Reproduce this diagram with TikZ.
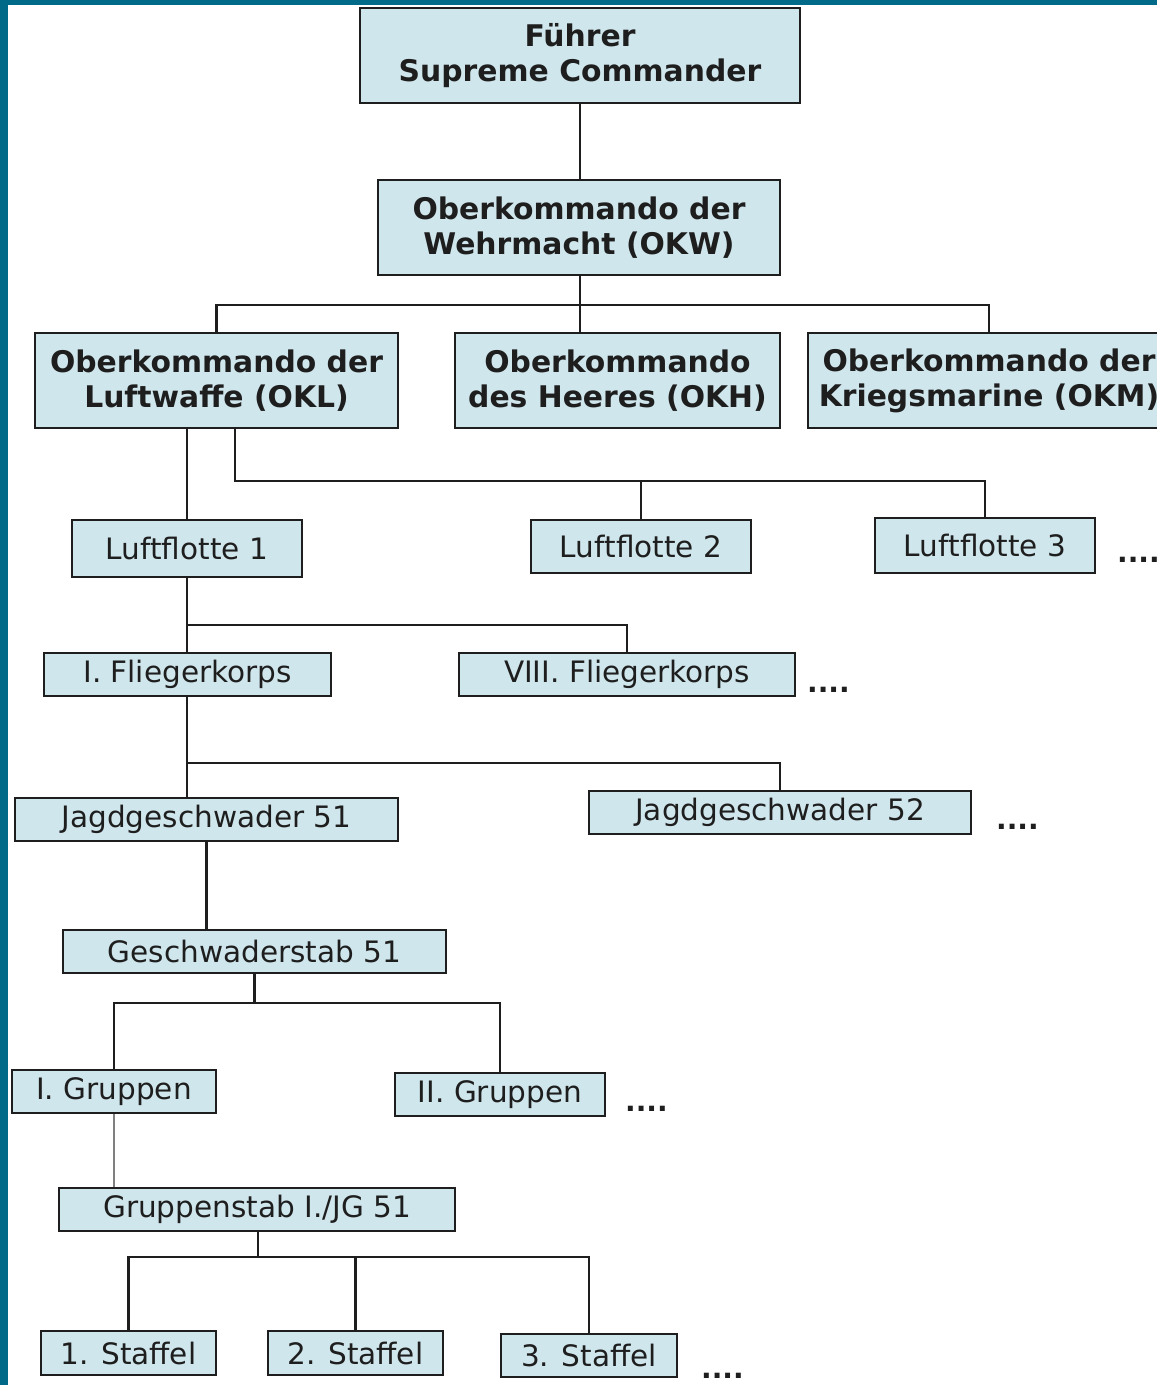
\documentclass[tikz,border=0pt]{standalone}
\usepackage{fontspec}
\setmainfont{DejaVu Sans}
\usepackage{tikz}

\definecolor{boxfill}{HTML}{CFE6EC}
\definecolor{frame}{HTML}{006A88}
\definecolor{ink}{HTML}{1E1E1E}

\tikzset{
  unit/.style={draw=ink, line width=2.8pt, fill=boxfill, inner sep=0pt,
    text=ink, align=center, font=\fontsize{29.5}{35}\selectfont},
  command/.style={unit, font=\fontsize{29.8}{35}\selectfont\bfseries},
  link/.style={draw=ink, line width=2.8pt},
  more/.style={anchor=base west, inner sep=0pt, text=ink,
    font=\fontsize{28}{35}\selectfont\bfseries}
}

\begin{document}
\begin{tikzpicture}[x=1pt,y=-1pt]
\fill[frame] (0,0) rectangle (1157,1385);
\fill[white] (8,5) rectangle (1157,1385);
\useasboundingbox (0,0) rectangle (1157,1385);

% high command
\node[command, minimum width=440, minimum height=95] (fuehrer) at (580,55.5) {Führer\\Supreme Commander};
\node[command, minimum width=402, minimum height=95] (okw) at (579,227.5) {Oberkommando der\\Wehrmacht (OKW)};
\node[command, minimum width=363, minimum height=95] (okl) at (216.5,380.5) {Oberkommando der\\Luftwaffe (OKL)};
\node[command, minimum width=325, minimum height=95] (okh) at (617.5,380.5) {Oberkommando\\des Heeres (OKH)};
\node[command, minimum width=362, minimum height=95] (okm) at (989,380.5) {Oberkommando der\\Kriegsmarine (OKM)};

% luftwaffe
\node[unit, minimum width=230, minimum height=57] (lf1) at (187,548.5) {Luftflotte 1};
\node[unit, minimum width=220, minimum height=53] (lf2) at (641,546.5) {Luftflotte 2};
\node[unit, minimum width=220, minimum height=55] (lf3) at (985,545.5) {Luftflotte 3};
\node[unit, minimum width=287, minimum height=43] (ifk) at (187.5,674.5) {I. Fliegerkorps};
\node[unit, minimum width=336, minimum height=43] (viiifk) at (627,674.5) {VIII. Fliegerkorps};
\node[unit, minimum width=383, minimum height=43] (jg51) at (206.5,819.5) {Jagdgeschwader 51};
\node[unit, minimum width=382, minimum height=43] (jg52) at (780,812.5) {Jagdgeschwader 52};
\node[unit, minimum width=383, minimum height=43] (gs51) at (254.5,951.5) {Geschwaderstab 51};
\node[unit, minimum width=204, minimum height=43] (ig) at (114,1091.5) {I. Gruppen};
\node[unit, minimum width=210, minimum height=43] (iig) at (500,1094.5) {II. Gruppen};
\node[unit, minimum width=396, minimum height=43] (gst) at (257,1209.5) {Gruppenstab I./JG 51};
\node[unit, minimum width=175, minimum height=44] (s1) at (128.5,1353) {1. Staffel};
\node[unit, minimum width=175, minimum height=44] (s2) at (355.5,1353) {2. Staffel};
\node[unit, minimum width=176, minimum height=43] (s3) at (589,1355.5) {3. Staffel};

% and so on
\node[more] (lfmore) at (1117,562) {....};
\node[more] (fkmore) at (807,692) {....};
\node[more] (jgmore) at (996,829) {....};
\node[more] (grmore) at (625,1111) {....};
\node[more] (stmore) at (701,1378) {....};

% bus points
\coordinate (okbus) at (580,305);
\coordinate (lfbus) at (235,481);
\coordinate (fkbus) at (187,625);
\coordinate (jgbus) at (187,763);
\coordinate (grbus) at (254.5,1003);
\coordinate (stbus) at (258,1257);

\draw[link] (fuehrer.south) -- (fuehrer.south |- okw.north);
\draw[link] (okw.south -| okbus) -- (okbus |- okh.north);
\draw[link] (okl.north) |- (okbus) -| (okm.north);
\draw[link] (okl.south -| lf1.north) -- (lf1.north);
\draw[link] (okl.south -| lfbus) -- (lfbus) -| (lf3.north);
\draw[link] (lfbus -| lf2.north) -- (lf2.north);
\draw[link] (lf1.south) -- (lf1.south |- ifk.north);
\draw[link] (fkbus) -| (viiifk.north);
\draw[link] (ifk.south -| jgbus) -- (jgbus |- jg51.north);
\draw[link] (jgbus) -| (jg52.north);
\draw[link] (jg51.south) -- (jg51.south |- gs51.north);
\draw[link] (gs51.south) -- (grbus);
\draw[link] (ig.north) |- (grbus) -| (iig.north);
\draw[draw=gray, line width=1.8pt] (ig.south) -- (ig.south |- gst.north);
\draw[link] (gst.south -| stbus) -- (stbus);
\draw[link] (s1.north) |- (stbus) -| (s3.north);
\draw[link] (stbus -| s2.north) -- (s2.north);
\end{tikzpicture}
\end{document}
